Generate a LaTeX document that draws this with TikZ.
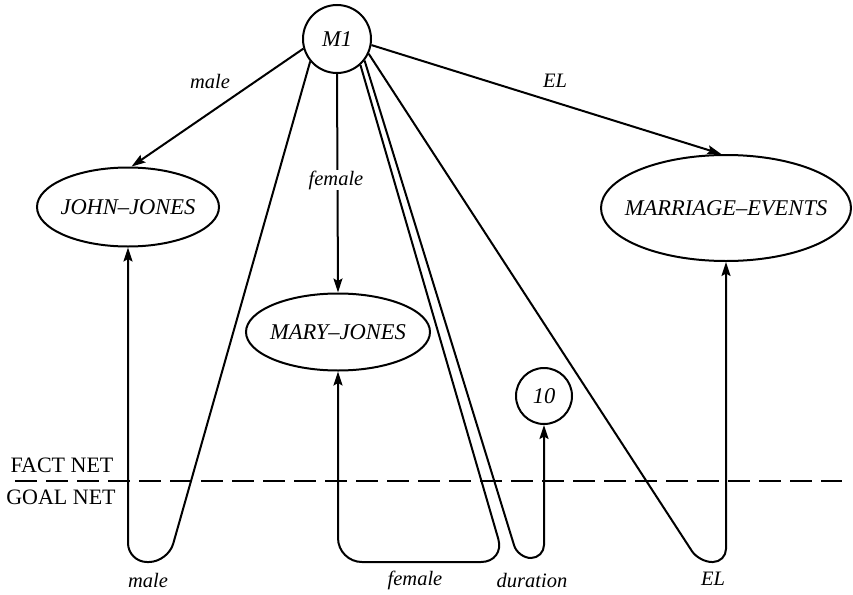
\documentclass[tikz,border=0pt]{standalone}
\usepackage{fontspec}
\setmainfont{Liberation Serif}
\usetikzlibrary{shapes.geometric,arrows.meta}
% narrow box so the ellipse size is set by minimum width/height alone
\newcommand{\conceptname}[1]{\makebox[100pt]{#1}}
\begin{document}
\begin{tikzpicture}[x=1pt,y=-1pt,
  line width=2pt,
  tip/.style={-{Stealth[length=14pt,width=9pt,inset=2.5pt]}},
  concept/.style={draw,ellipse,inner sep=0pt,font=\fontsize{22.5}{26}\selectfont\itshape},
  token/.style={draw,circle,inner sep=0pt,font=\fontsize{22.5}{26}\selectfont\itshape},
  arclabel/.style={inner sep=1pt,font=\fontsize{20.5}{23}\selectfont\itshape},
  netlabel/.style={inner sep=0pt,font=\fontsize{22}{25}\selectfont}]
\useasboundingbox (0,0) rectangle (853,594);

% nodes of the fact net
\node[token,minimum size=68pt] (M1) at (337,39) {M1};
\node[concept,minimum width=182pt,minimum height=79pt] (JJ) at (128,207) {\conceptname{JOHN--JONES}};
\node[concept,minimum width=184pt,minimum height=77pt] (MJ) at (338,332) {\conceptname{MARY--JONES}};
\node[concept,minimum width=250pt,minimum height=106pt] (ME) at (726,208) {\conceptname{MARRIAGE--EVENTS}};
\node[token,minimum size=56pt] (T10) at (544,396) {10};

% fact-net arcs
\draw[tip] (M1.-164) -- (JJ.85);
\draw[tip] (M1.south) -- (MJ.north);
\draw[tip] (M1.-10) -- (ME.95);
\node[arclabel] (lmale) at (210,81) {male};
\node[arclabel,fill=white] (lfemale) at (336,180) {female};
\node[arclabel] (lel) at (555,81) {EL};

% boundary between the two nets
\coordinate (dl) at (15,481);
\coordinate (dr) at (842,481);
\draw[dash pattern=on 22pt off 9pt] (dl) -- (dr);
\node[netlabel] (fact) at (62,465) {FACT NET};
\node[netlabel] (goal) at (61,497) {GOAL NET};

% goal-net arcs looping back up into the fact net
\coordinate (cmale) at (168,562);
\coordinate (bmale) at (128,562);
\draw[tip,rounded corners=19pt] (M1.-140) -- (cmale) -- (bmale) -- (JJ.south);

\coordinate (cfem) at (505,562);
\coordinate (bfem) at (338,562);
\draw[tip,rounded corners=24pt] (M1.-48) -- (cfem) -- (bfem) -- (MJ.south);

\coordinate (cdur) at (518,558);
\coordinate (bdur) at (544,558);
\draw[tip,rounded corners=13pt] (M1.-38) -- (cdur) -- (bdur) -- (T10.south);

\coordinate (cel) at (699,562);
\coordinate (bel) at (726,562);
\draw[tip,rounded corners=13pt] (M1.-25) -- (cel) -- (bel) -- (ME.south);

% goal-net labels
\node[arclabel] (gmale) at (148,580) {male};
\node[arclabel] (gfemale) at (415,580) {female};
\node[arclabel] (gdur) at (532,580) {duration};
\node[arclabel] (gel) at (713,579) {EL};
\end{tikzpicture}
\end{document}
